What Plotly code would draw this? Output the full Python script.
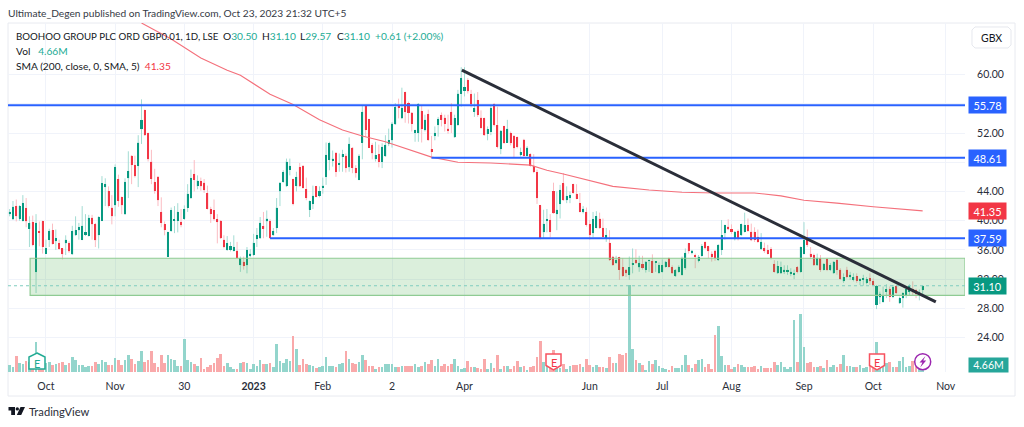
import plotly.graph_objects as go

# ---- candle data (GBX) ----
highs = [41.6,42.7,42.9,42.1,43.5,43.1,40.6,40.7,40.9,39.9,40.0,37.4,38.9,39.6,38.8,37.4,36.2,38.0,37.2,39.3,40.6,39.7,42.0,40.9,40.8,40.8,39.7,40.6,46.1,45.8,44.7,43.5,47.7,46.3,43.3,45.8,49.5,48.9,48.9,51.7,56.6,55.2,52.0,49.7,47.1,46.1,43.2,39.9,38.5,41.8,42.0,42.4,41.6,42.1,45.0,47.0,48.3,46.2,45.9,45.7,44.8,41.9,42.9,40.9,40.1,38.0,37.9,37.1,38.0,37.1,35.1,35.1,36.4,
36.1,38.2,39.0,40.5,41.2,41.4,40.2,39.0,43.1,45.2,46.9,48.5,48.5,45.7,46.7,47.9,47.6,45.9,42.7,44.8,44.7,44.7,45.9,50.7,50.8,49.6,49.3,49.2,49.7,49.2,51.4,50.0,47.6,49.1,55.7,55.7,53.9,50.6,50.8,50.4,50.6,51.7,52.6,53.5,56.1,56.7,58.2,57.6,56.3,54.8,52.4,56.1,55.7,54.5,55.2,51.6,52.9,54.2,54.8,54.5,54.5,56.1,54.5,57.9,61.0,61.0,59.5,57.9,57.4,57.6,55.1,54.1,52.9,
55.8,56.0,55.6,52.4,53.0,53.8,52.2,51.7,51.5,50.0,51.2,50.2,49.2,49.1,47.0,42.1,41.5,41.6,40.9,45.2,44.0,44.9,46.5,44.7,44.0,45.0,45.0,43.8,42.0,41.8,40.1,41.2,41.3,41.1,40.3,39.0,38.7,35.2,35.2,35.0,34.9,33.3,35.1,36.2,36.1,35.2,35.2,34.4,34.6,35.4,34.4,34.3,34.7,34.5,34.9,33.9,33.3,33.9,35.1,36.2,36.9,36.0,35.5,35.3,36.8,37.1,36.5,35.8,36.0,36.7,40.1,39.4,40.2,
39.5,38.5,38.8,39.6,41.1,40.3,39.6,39.1,38.8,38.3,37.0,36.7,36.4,34.6,34.5,34.4,33.9,33.9,33.5,33.3,33.8,36.4,39.8,38.8,36.4,35.5,35.5,35.3,34.2,34.9,34.2,34.4,34.9,33.5,32.8,33.7,33.0,32.8,32.8,32.1,32.6,32.3,32.8,32.1,31.2,30.3,31.0,31.3,31.0,31.2,31.2,29.6,30.2,30.7,31.3,31.7,30.7,30.6,31.10]
body_tops = [41.2,41.9,42.0,42.0,42.4,41.7,39.7,39.8,39.7,38.5,39.9,36.2,38.6,38.7,37.6,36.9,36.2,37.4,36.9,38.6,38.7,39.1,39.3,38.4,40.4,40.4,39.5,40.5,45.1,45.0,44.1,41.8,47.3,45.7,43.2,45.3,46.8,48.9,47.6,50.7,53.8,55.1,52.0,48.1,45.3,46.0,41.2,39.5,38.4,41.4,40.1,41.2,39.8,41.6,43.7,45.8,46.4,45.5,45.4,45.2,43.8,41.6,41.4,40.2,40.0,37.4,36.9,36.5,36.4,35.9,34.9,34.4,36.0,
35.5,37.0,38.0,39.7,39.3,40.3,39.9,38.6,41.8,45.2,46.6,48.1,47.5,45.7,46.0,47.3,47.5,44.3,42.7,43.4,44.7,44.1,44.8,49.0,50.6,48.5,49.3,47.9,49.1,48.9,50.5,50.0,47.2,48.9,54.9,55.7,53.9,50.3,49.0,49.1,50.1,50.4,51.0,53.3,55.5,55.8,55.4,57.6,56.1,54.8,52.4,56.0,55.0,53.8,54.6,49.8,52.0,53.9,54.5,54.1,52.6,54.9,54.0,57.4,59.5,58.3,59.2,57.3,55.4,56.5,54.1,54.0,52.5,
55.4,56.0,53.1,52.3,52.9,52.6,52.0,51.6,51.4,49.4,51.1,50.0,49.1,47.5,46.6,42.1,39.6,40.2,40.1,44.0,41.5,44.2,45.1,43.4,43.5,45.0,43.7,42.4,41.6,41.2,39.5,40.2,40.6,40.3,39.0,38.0,37.0,35.1,34.6,35.0,33.6,33.3,33.6,34.2,34.6,34.2,34.1,34.4,34.6,34.5,34.4,33.9,33.9,34.4,34.9,33.6,33.3,33.7,34.9,35.6,36.9,35.9,35.2,35.1,36.5,37.1,36.5,35.5,35.9,36.7,38.0,39.4,39.2,
38.8,38.5,38.6,39.5,39.4,39.4,38.5,38.5,37.8,37.1,36.3,36.0,36.1,34.1,33.8,33.6,33.3,33.3,33.0,32.8,33.6,36.4,37.4,37.5,35.5,35.3,34.9,34.9,34.1,34.7,33.9,34.4,34.6,33.3,32.3,33.3,32.6,32.3,32.4,32.0,32.1,32.0,32.1,31.7,31.1,30.0,29.7,30.6,30.7,30.9,31.0,29.4,30.1,30.6,31.1,30.6,30.5,30.1,31.10]
body_bottoms = [40.9,40.2,40.6,40.3,40.0,39.9,38.9,36.7,33.0,38.4,36.4,35.5,37.4,36.8,37.2,36.1,35.4,36.9,35.8,35.4,38.0,38.7,37.4,38.1,37.9,39.5,37.3,38.0,40.0,44.6,42.0,40.6,42.1,42.7,42.1,40.9,45.8,47.6,46.1,47.5,52.5,51.7,48.4,45.7,44.1,42.8,39.7,38.7,35.1,38.6,40.0,40.0,39.4,40.3,41.8,43.1,45.6,44.7,44.7,44.2,41.6,40.9,40.2,39.8,37.6,36.4,36.0,36.0,35.9,34.9,33.9,33.8,33.9,
35.3,35.3,37.5,37.6,38.9,39.9,37.6,38.0,39.0,44.0,45.3,44.7,47.0,42.3,44.7,44.7,44.5,43.1,41.5,42.3,43.3,43.4,44.6,46.0,48.3,48.3,46.7,47.7,48.7,47.2,47.3,47.2,46.5,45.6,50.7,52.4,50.0,49.2,48.4,48.1,48.1,48.8,50.5,51.0,53.2,55.4,54.0,54.9,54.8,53.3,52.0,52.0,52.5,52.4,51.0,49.4,51.6,53.1,53.8,53.3,52.4,53.1,51.4,53.1,57.4,57.8,57.7,56.0,54.9,54.5,52.7,51.7,51.9,
52.2,53.1,50.1,49.8,50.6,50.7,50.6,49.9,50.1,49.0,48.9,48.9,47.5,46.7,43.1,37.5,38.4,40.0,38.5,41.0,40.9,42.3,42.8,42.8,43.1,43.8,43.0,41.2,41.2,39.4,38.0,38.3,39.0,39.0,37.8,37.6,34.6,33.9,34.2,33.3,32.5,32.8,32.6,34.0,34.2,33.6,33.5,33.3,34.5,32.9,34.3,32.9,33.0,33.7,33.7,32.8,32.4,33.0,32.6,33.5,35.8,35.6,35.1,34.5,35.2,36.2,35.8,35.0,34.9,34.6,36.0,38.3,38.8,
38.5,37.5,37.5,38.0,38.5,38.6,37.3,37.4,37.1,36.1,35.8,35.5,34.9,33.0,32.8,32.8,33.0,33.0,32.7,32.7,33.0,33.0,35.5,36.7,35.1,33.9,33.9,33.3,33.3,33.3,33.3,32.8,33.3,32.0,31.7,32.3,32.3,31.9,31.8,31.8,32.0,31.5,31.7,31.2,28.5,29.5,28.9,30.3,29.6,29.6,30.1,28.7,29.4,29.8,30.3,30.2,30.0,30.0,30.50]
lows = [40.6,40.1,39.9,40.0,39.9,39.1,36.4,36.5,30.1,36.5,35.5,35.5,36.4,36.8,36.0,36.1,34.7,35.3,35.6,35.3,37.9,37.4,37.4,37.9,37.9,37.4,36.4,36.2,40.0,42.0,41.8,39.5,40.6,41.9,40.9,40.8,43.1,45.0,45.9,44.6,50.5,51.6,48.1,45.0,43.7,42.0,39.1,38.0,35.1,38.5,38.3,38.4,39.1,40.1,41.2,43.0,44.0,44.3,44.1,43.8,41.6,39.7,40.0,36.9,37.5,36.2,35.9,35.8,35.8,34.9,33.0,33.3,32.8,
35.0,35.2,36.4,37.5,37.6,37.8,37.6,38.0,38.3,42.0,45.2,44.6,46.2,42.1,44.0,44.6,44.4,42.8,40.5,41.6,43.2,43.2,43.7,44.9,46.9,47.4,46.0,46.7,46.7,46.6,46.7,46.5,45.9,45.6,48.4,51.5,50.0,48.4,48.1,47.3,47.2,48.8,50.2,50.0,53.1,54.0,53.9,53.4,53.3,52.2,50.8,50.8,50.7,52.2,51.0,48.5,51.0,51.5,52.9,52.2,51.9,52.0,51.4,53.0,55.6,57.0,57.4,55.5,54.2,54.2,52.6,51.6,51.0,
51.7,52.9,49.9,49.1,50.6,50.7,50.3,48.7,49.9,48.8,48.8,48.8,47.4,46.5,42.3,37.5,37.6,38.4,37.7,41.0,38.7,40.3,42.7,42.4,42.4,43.7,43.0,41.2,41.0,39.2,37.4,37.7,39.0,38.9,37.8,37.1,34.5,33.9,34.1,31.9,32.3,32.3,31.9,32.8,34.1,33.0,33.3,32.9,33.0,32.9,33.0,32.7,32.9,33.6,33.6,32.7,32.3,32.9,32.5,33.3,35.5,35.4,33.5,34.3,35.1,36.1,34.9,34.4,34.5,34.5,35.3,37.4,38.7,
38.2,37.3,37.3,37.9,38.4,38.5,37.2,37.1,37.0,36.0,35.6,35.4,34.7,32.9,32.7,32.7,32.7,32.6,32.4,32.0,32.8,32.9,35.4,36.4,34.8,33.8,33.8,33.0,33.2,33.1,33.1,32.7,32.6,31.9,31.5,32.1,31.9,31.7,31.5,31.2,31.1,31.3,31.2,31.1,27.9,28.6,28.8,29.4,28.9,29.4,30.0,28.6,28.1,29.4,29.7,29.8,29.4,29.1,29.57]
directions = ("uuduududud" "duududdudu" "uuuuudduuu" "ddudduuddu" "uddddddduu" "uuduuududd" "dddddduuud" "udu"
              "uuuudud" "uuuuuududd" "duuduuuuud" "uududduudd" "duduuuuudu" "ddduududdu" "udddduuuud" "dudddu"
              "uddu" "dudddududd" "dduudduudu" "udddudduud" "dudduddduu" "duduuduuuu" "dduuuududu" "udddduuud"
              "d" "uduuddddud" "ddduuuuuud" "uudddududu" "udduduuduu" "udduuuudud" "uuuudduu")

volumes_m = [5.7,4.2,12.5,7.0,6.2,8.8,7.8,7.8,23.4,7.8,6.5,7.3,7.8,5.2,6.2,7.3,7.8,5.7,6.8,11.7,
9.1,5.7,5.2,3.9,4.7,4.7,7.8,6.2,9.4,7.8,5.7,5.7,10.9,9.4,5.2,9.4,13.0,9.9,6.2,8.3,
16.1,7.8,9.1,16.1,7.3,3.9,13.5,7.3,13.0,9.9,9.1,4.7,4.7,25.5,9.1,7.8,6.5,4.7,10.9,2.6,
4.2,5.2,6.8,10.9,14.3,4.7,6.8,4.2,2.1,2.6,6.8,7.8,6.8,2.1,6.5,4.7,9.1,6.2,6.2,7.3,
3.6,21.8,8.3,6.8,10.4,8.3,27.6,18.2,5.7,9.9,6.2,5.7,4.7,3.1,3.9,4.7,12.0,4.7,4.7,3.6,
6.2,6.8,16.6,9.9,6.8,6.5,7.8,13.0,9.4,4.7,4.7,2.6,3.6,4.2,6.5,6.5,6.2,4.2,3.6,4.7,
4.7,4.7,4.7,6.2,3.6,4.7,7.8,6.2,9.1,4.7,9.9,4.7,6.2,4.7,6.5,9.9,4.7,2.6,3.1,8.8,
3.6,4.2,3.1,2.6,10.4,2.6,7.3,3.1,13.0,2.6,4.7,4.7,2.6,
4.7,8.3,3.6,4.7,1.6,3.6,4.7,12.0,23.9,7.8,6.5,3.9,17.2,3.1,3.1,6.5,2.1,4.7,5.7,5.2,
6.2,4.2,9.9,5.7,3.6,5.2,4.2,4.2,3.1,11.4,6.8,7.3,14.3,13.0,15.1,67.9,18.2,9.4,6.8,5.2,
1.6,8.8,6.2,9.4,4.7,3.1,2.6,1.6,4.7,3.1,3.1,5.7,13.0,5.7,3.1,6.2,9.4,10.4,4.2,6.2,
2.1,29.1,35.9,12.5,5.2,5.2,2.6,3.6,6.2,5.7,3.6,4.2,4.2,4.7,2.6,4.7,3.1,3.1,3.1,7.8,
5.7,7.8,3.6,2.6,3.6,40.3,7.8,44.7,19.5,7.3,7.8,3.6,4.2,4.7,3.1,9.4,3.6,5.2,4.2,6.2,
13.5,4.7,4.7,4.2,3.6,5.2,3.1,4.2,4.7,3.6,23.4,3.6,3.6,7.3,7.8,4.2,4.2,8.8,12.0,4.2,
4.7,8.8,5.2,3.1,4.66]

sma_bars = [40,49,58,66,70,79,86,94,101,107,114,121,128,136,146,158,163,168,175,183,194,204,214,226,234,241,251,262,277]
sma_vals = [67.05,64.86,62.26,60.6,59.9,57.3,55.9,53.8,52.4,51.6,50.8,49.8,48.7,48.0,47.9,47.6,46.9,46.4,45.6,44.7,44.2,43.9,43.8,43.8,43.4,42.8,42.4,41.9,41.35]

tick_bars = [11,32,53,74,95,116,138,176,198,219,241,262,284]
tick_names = ["Oct","Nov","30","<b>2023</b>","Feb","2","Apr","Jun","Jul","Aug","Sep","Oct","Nov"]
price_ticks = [60,56,52,48,44,40,36,32,28,24]
price_names = ["60.00","","52.00","","44.00","40.00","36.00","32.00","28.00","24.00"]

level_values = [55.78,48.61,37.59]
level_starts = [-0.5,128,79]
zone_low, zone_high, zone_start = 29.79,34.86,6.2
trend_bars = [137.2,281.0]
trend_vals = [60.6,28.9]
last_close = 31.10
sma_last = 41.35
vol_last = "4.66M"

GREEN,RED,BLUE = "#089981","#f23645","#2962ff"
PALE_G,PALE_R = "#a3dcd3","#fbbcc2"
FONT = "Lato"
AXIS_MAX = 289.85

N = len(highs)
bars = list(range(N))
opens  = [body_bottoms[i] if directions[i]=="u" else body_tops[i] for i in bars]
closes = [body_tops[i] if directions[i]=="u" else body_bottoms[i] for i in bars]
vol_col = ["#93d5cc" if d=="u" else "#f9a9aa" for d in directions]
body_col = [GREEN if d=="u" else RED for d in directions]
body_size = [max(body_tops[i]-body_bottoms[i],0.12) for i in bars]

L,R,T,B = 8,965,23,372
px = lambda x:(x-L)/(R-L)
py = lambda y:(B-y)/(B-T)

fig = go.Figure()
fig.add_trace(go.Bar(x=bars,y=volumes_m,marker=dict(color=vol_col,line_width=0),width=0.8,yaxis="y",hoverinfo="skip"))
fig.add_trace(go.Candlestick(x=bars,open=opens,high=highs,low=lows,close=closes,yaxis="y2",whiskerwidth=0,
    increasing=dict(line=dict(color=PALE_G,width=1),fillcolor=PALE_G),
    decreasing=dict(line=dict(color=PALE_R,width=1),fillcolor=PALE_R),hoverinfo="skip"))
fig.add_trace(go.Bar(x=bars,y=body_size,base=body_bottoms,marker=dict(color=body_col,line_width=0),width=0.62,yaxis="y3",hoverinfo="skip"))
fig.add_trace(go.Scatter(x=sma_bars,y=sma_vals,mode="lines",yaxis="y3",line=dict(color="#f4707b",width=1.1),hoverinfo="skip"))

shapes=[]
shapes.append(dict(type="rect",xref="x",yref="y2",x0=zone_start,x1=AXIS_MAX,y0=zone_low,y1=zone_high,
    fillcolor="rgba(76,175,80,0.2)",line=dict(color="#8fcb93",width=1.2),layer="above"))
shapes.append(dict(type="line",xref="paper",x0=0,x1=1,yref="y2",y0=last_close,y1=last_close,line=dict(color="#7fcdbf",width=1,dash="dot"),layer="above"))
for v,s in zip(level_values,level_starts):
    shapes.append(dict(type="line",xref="x",yref="y2",x0=s,x1=AXIS_MAX,y0=v,y1=v,line=dict(color=BLUE,width=2),layer="above"))
shapes.append(dict(type="line",xref="x",yref="y2",x0=trend_bars[0],x1=trend_bars[1],y0=trend_vals[0],y1=trend_vals[1],line=dict(color="#2a2e39",width=3),layer="above"))

def poly(pts,fill,line=None,lw=1.5):
    d="M"+" L".join(f"{px(x):.5f},{py(y):.5f}" for x,y in pts)+" Z"
    return dict(type="path",xref="paper",yref="paper",path=d,fillcolor=fill,line=dict(color=line or fill,width=lw if line else 0),layer="above")

shapes.append(dict(type="rect",xref="paper",yref="paper",x0=px(8),x1=px(1015),y0=py(396),y1=py(23),line=dict(color="#e8eaf0",width=1),layer="below"))
shapes.append(poly([(975,27),(1008,27),(1011,30),(1011,45),(1008,48),(975,48),(972,45),(972,30)],"white","#e6e8ee",1))
shapes.append(poly([(37,353),(45,357),(45,369),(29,369),(29,357)],"white","#22ab94"))
for cx in (553.5,877):
    shapes.append(poly([(cx-7.5,354),(cx+7.5,354),(cx+7.5,365.5),(cx,370),(cx-7.5,365.5)],"white","#f7525f"))
cx,cy,r=922.7,361.7,8
shapes.append(dict(type="circle",xref="paper",yref="paper",x0=px(cx-r),x1=px(cx+r),y0=py(cy+r),y1=py(cy-r),fillcolor="white",line=dict(color="#9c27b0",width=1.5),layer="above"))
shapes.append(poly([(925.5,356),(919.5,362.6),(922.4,362.6),(920.2,367.6),(926.2,360.6),(923.2,360.6)],"#9c27b0"))
shapes.append(poly([(8.5,407),(15,407),(15,415),(11.2,415),(11.2,410.6),(8.5,410.6)],"#131722"))
shapes.append(dict(type="circle",xref="paper",yref="paper",x0=px(15.6),x1=px(19),y0=py(410.6),y1=py(407.2),fillcolor="#131722",line=dict(width=0),layer="above"))
shapes.append(poly([(20.5,407),(25,407),(21.2,415),(16.8,415)],"#131722"))

def note(x,y,text,size=10.2,color="#131722",anchor="left",**kw):
    return dict(xref="paper",yref="paper",x=px(x),y=py(y),text=text,showarrow=False,xanchor=anchor,yanchor="middle",
                font=dict(family=FONT,size=size,color=color),**kw)
def g(t): return f'<span style="color:#22ab94">{t}</span>'
anns=[
 note(6,13,"Ultimate_Degen published on TradingView.com, Oct 23, 2023 21:32 UTC+5",size=10.2,color="#363a45"),
 note(14,36,"BOOHOO GROUP PLC ORD GBP0.01, 1D, LSE",size=9.7),
 note(221,36,"O"+g("30.50")), note(259.5,36,"H"+g("31.10")), note(297.5,36,"L"+g("29.57")), note(334.5,36,"C"+g("31.10")),
 note(372.5,36,g("+0.61 (+2.00%)")),
 note(14,51,'Vol   '+g(vol_last)),
 note(14,66,f'SMA (200, close, 0, SMA, 5)  <span style="color:{RED}">{sma_last}</span>'),
 note(991.5,37.5,"GBX",anchor="center",size=10.5),
 note(27,411.5,"TradingView",size=11.2,color="#2a2e39"),
 note(37,363,"E",size=11,color="#22ab94",anchor="center"),
 note(553.5,362,"E",size=11,color="#f23645",anchor="center"),
 note(877,362,"E",size=11,color="#f23645",anchor="center"),
]
for v,col in [(level_values[0],BLUE),(level_values[1],BLUE),(sma_last,RED),(level_values[2],BLUE),(last_close,GREEN)]:
    y=74.5+(60-v)*7.31
    anns.append(note(987.5,y,f"{v:.2f}",size=11,color="white",anchor="center",bgcolor=col,width=37,height=16,borderpad=0))
anns.append(note(988.5,365,vol_last,size=10.5,color="white",anchor="center",bgcolor="#26a69a",width=39,height=14,borderpad=0))

fig.update_layout(width=1024,height=427,autosize=False,margin=dict(l=L,r=1024-R,t=T,b=427-B),
    paper_bgcolor="white",plot_bgcolor="white",showlegend=False,hovermode=False,barmode="overlay",bargap=0,boxgap=0.6,
    shapes=shapes,annotations=anns,font=dict(family=FONT),
    xaxis=dict(range=[-0.507,AXIS_MAX],tickmode="array",tickvals=tick_bars,ticktext=tick_names,rangeslider=dict(visible=False),
        showgrid=True,gridcolor="#f0f3fa",gridwidth=1,zeroline=False,showline=False,ticks="outside",ticklen=4,tickcolor="rgba(0,0,0,0)",
        tickfont=dict(family=FONT,size=10.5,color="#2a2e39")),
    yaxis=dict(range=[0,271.2],visible=False,showgrid=False,zeroline=False,fixedrange=True),
    yaxis2=dict(range=[19.30,67.05],overlaying="y",side="right",tickmode="array",tickvals=price_ticks,ticktext=price_names,
        showgrid=True,gridcolor="#f0f3fa",gridwidth=1,zeroline=False,showline=False,ticks="outside",ticklen=9,tickcolor="rgba(0,0,0,0)",
        tickfont=dict(family=FONT,size=10.5,color="#2a2e39")),
    yaxis3=dict(range=[19.30,67.05],overlaying="y",side="right",visible=False,showgrid=False,zeroline=False),
)
fig.write_html("out.html",config=dict(displayModeBar=False),post_script="document.body.style.margin='0';document.body.style.overflow='hidden';")
